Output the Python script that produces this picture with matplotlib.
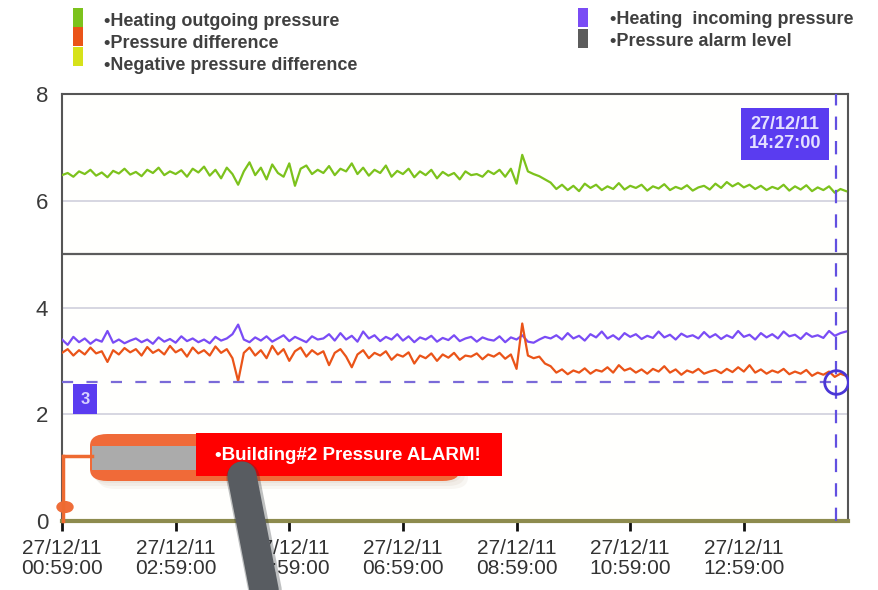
import numpy as np
import pandas as pd
import matplotlib
matplotlib.use("Agg")
import matplotlib.pyplot as plt
import matplotlib.font_manager as fm
from matplotlib.patches import Rectangle, FancyBboxPatch, Circle
from matplotlib.lines import Line2D

# ---- data (6 minute samples from 00:59) ----
outgoing = [6.48, 6.52, 6.45, 6.55, 6.50, 6.58, 6.47, 6.53, 6.44, 6.56, 6.51, 6.60, 6.49, 6.54, 6.46,
            6.58, 6.52, 6.62, 6.48, 6.55, 6.50, 6.57, 6.45, 6.60, 6.53, 6.64, 6.47, 6.58, 6.42, 6.62,
            6.50, 6.30, 6.55, 6.72, 6.48, 6.62, 6.40, 6.68, 6.52, 6.45, 6.70, 6.28, 6.60, 6.66, 6.50, 6.58,
            6.52, 6.65, 6.48, 6.60, 6.55, 6.70, 6.50, 6.62, 6.47, 6.58, 6.52, 6.66, 6.45, 6.56, 6.50,
            6.60, 6.44, 6.55, 6.48, 6.58, 6.42, 6.54, 6.47, 6.52, 6.40, 6.55, 6.48, 6.50, 6.45, 6.56,
            6.50, 6.58, 6.45, 6.60, 6.32, 6.86, 6.55, 6.50, 6.46, 6.40, 6.34,
            6.22, 6.30, 6.20, 6.28, 6.18, 6.32, 6.24, 6.30, 6.20, 6.27, 6.22, 6.33, 6.21, 6.28, 6.24,
            6.30, 6.19, 6.27, 6.23, 6.31, 6.20, 6.26, 6.22, 6.29, 6.19, 6.25, 6.28, 6.21, 6.32, 6.24,
            6.35, 6.27, 6.33, 6.25, 6.30, 6.22, 6.28, 6.20, 6.26, 6.22, 6.30, 6.19, 6.27, 6.21, 6.29,
            6.18, 6.25, 6.20, 6.27, 6.15, 6.22, 6.18]

incoming = [3.40, 3.30, 3.45, 3.35, 3.42, 3.32, 3.40, 3.36, 3.56, 3.34, 3.40, 3.33, 3.38, 3.42, 3.35,
            3.40, 3.32, 3.44, 3.36, 3.41, 3.34, 3.46, 3.37, 3.42, 3.35, 3.40, 3.33, 3.45, 3.38, 3.42,
            3.50, 3.68, 3.40, 3.35, 3.44, 3.38, 3.46, 3.36, 3.42, 3.48, 3.37, 3.45, 3.40, 3.35, 3.46, 3.40,
            3.42, 3.50, 3.38, 3.52, 3.40, 3.47, 3.36, 3.55, 3.42, 3.48, 3.37, 3.45, 3.40, 3.50, 3.38,
            3.46, 3.35, 3.44, 3.40, 3.47, 3.36, 3.43, 3.39, 3.48, 3.37, 3.42, 3.45, 3.36, 3.44, 3.40,
            3.38, 3.46, 3.35, 3.44, 3.40, 3.48, 3.36, 3.34, 3.40, 3.45, 3.42,
            3.48, 3.40, 3.52, 3.42, 3.47, 3.38, 3.50, 3.44, 3.55, 3.42, 3.48, 3.40, 3.52, 3.45, 3.50,
            3.41, 3.47, 3.43, 3.55, 3.44, 3.49, 3.40, 3.51, 3.45, 3.48, 3.42, 3.54, 3.44, 3.50, 3.41,
            3.48, 3.43, 3.56, 3.45, 3.49, 3.40, 3.52, 3.44, 3.50, 3.42, 3.55, 3.46, 3.49, 3.41, 3.52,
            3.45, 3.48, 3.43, 3.56, 3.47, 3.52, 3.55]

difference = [3.15, 3.22, 3.10, 3.20, 3.12, 3.25, 3.14, 3.18, 2.98, 3.20, 3.12, 3.24, 3.16, 3.22, 3.10,
              3.26, 3.15, 3.21, 3.12, 3.28, 3.16, 3.22, 3.08, 3.25, 3.14, 3.20, 3.10, 3.27, 3.15, 3.22,
              3.05, 2.62, 3.15, 3.25, 3.10, 3.20, 3.05, 3.28, 3.12, 3.22, 3.00, 3.18, 3.25, 3.08, 3.20, 3.12,
              3.18, 2.92, 3.15, 3.22, 3.08, 2.88, 3.12, 3.20, 3.05, 3.15, 3.10, 3.18, 3.02, 3.12, 3.08,
              3.16, 2.95, 3.10, 3.05, 3.14, 3.00, 3.12, 3.06, 3.15, 3.02, 3.10, 3.08, 3.14, 3.03, 3.12,
              3.08, 3.15, 3.04, 3.12, 2.85, 3.70, 3.10, 3.05, 3.08, 2.95, 2.90,
              2.78, 2.84, 2.75, 2.82, 2.78, 2.86, 2.76, 2.83, 2.80, 2.88, 2.78, 2.92, 2.82, 2.86, 2.78,
              2.84, 2.76, 2.85, 2.80, 2.90, 2.78, 2.84, 2.74, 2.82, 2.78, 2.85, 2.76, 2.80, 2.83, 2.77,
              2.85, 2.79, 2.88, 2.80, 2.92, 2.78, 2.84, 2.76, 2.82, 2.78, 2.85, 2.75, 2.80, 2.76, 2.83,
              2.72, 2.78, 2.74, 2.80, 2.70, 2.76, 2.72]

alarm_level = 5.0
negative_level = 0.0
threshold = 2.6
threshold_label = "3"
cursor_time = "2011-12-27 14:36"
cursor_label = "27/12/11\n14:27:00"
alarm_text = "\u2022Building#2 Pressure ALARM!"

legend_left = ["\u2022Heating outgoing pressure", "\u2022Pressure difference",
               "\u2022Negative pressure difference"]
legend_right = ["\u2022Heating  incoming pressure", "\u2022Pressure alarm level"]

c_green, c_orange, c_yellow = "#7cc21c", "#ea5418", "#d6e21a"
c_purple, c_gray = "#7a4cf5", "#5c5c5c"

times = pd.date_range("2011-12-27 00:59", periods=len(outgoing), freq="6min")
tick_times = pd.date_range("2011-12-27 00:59", periods=7, freq="2h")

plt.rcParams["font.family"] = ["Liberation Sans", "DejaVu Sans"]

W, H = 879, 590
fig = plt.figure(figsize=(W / 100, H / 100), dpi=100)


def fx(x):
    return x / W


def fy(y):
    return 1 - y / H


ax = fig.add_axes([fx(62), fy(521), fx(848) - fx(62), fy(94) - fy(521)])
ax.set_facecolor("#fffffd")

for g in [2, 4, 6]:
    ax.axhline(g, color="#cfcfdc", lw=1.2, zorder=1)
ax.axhline(alarm_level, color=c_gray, lw=1.6, zorder=2)

ax.plot(times, outgoing, color=c_green, lw=1.6, zorder=3)
ax.plot(times, incoming, color=c_purple, lw=1.6, zorder=3)
ax.plot(times, difference, color=c_orange, lw=1.6, zorder=4)
ax.axhline(negative_level, color="#8d8b4e", lw=3, zorder=5, clip_on=False)

ct = pd.Timestamp(cursor_time)
ax.axvline(ct, color="#6250e0", lw=1.6, ls=(0, (6, 5)), zorder=6)
ax.hlines(threshold, times[0], ct, color="#7a6ad8", lw=1.6, ls=(0, (5, 6)), zorder=6)
ax.plot([ct], [threshold], "o", ms=17, mfc="none", mec="#4a36d6", mew=2, zorder=7)

ax.set_ylim(0, 8)
ax.set_xlim(pd.Timestamp("2011-12-27 00:59"), pd.Timestamp("2011-12-27 14:49"))
ax.set_yticks([0, 2, 4, 6, 8])
ax.set_yticklabels(["0", "2", "4", "6", "8"], fontsize=16, color="#3a3a3a")
ax.set_xticks(tick_times)
ax.set_xticklabels([t.strftime("%d/%m/%y\n%H:%M:%S") for t in tick_times],
                   fontsize=15, color="#333333", linespacing=1.05)
ax.tick_params(axis="y", length=0, pad=10)
ax.tick_params(axis="x", direction="out", length=7, width=2, color="#111111", pad=6)
for s in ["left", "top", "right"]:
    ax.spines[s].set_color("#555555")
    ax.spines[s].set_linewidth(1.5)
ax.spines["bottom"].set_color("#77773a")
ax.spines["bottom"].set_linewidth(2)

# value labels on the cursor
fig.text(fx(785), fy(134), cursor_label, ha="center", va="center", fontsize=13,
         fontweight="bold", color="#e4e0ff", linespacing=1.15,
         bbox=dict(boxstyle="square,pad=0.45", fc="#5a3cf0", ec="none"))
fig.text(fx(85), fy(399), threshold_label, ha="center", va="center", fontsize=12,
         fontweight="bold", color="#d8d2ff",
         bbox=dict(boxstyle="square,pad=0.45", fc="#5a3cf0", ec="none"))

# legend
sq = [(c_green, 8), (c_orange, 27), (c_yellow, 47)]
for (c, y0), txt, ty in zip(sq, legend_left, [21, 43, 66]):
    fig.patches.append(Rectangle((fx(73), fy(y0 + 19)), fx(10), 19 / H, fc=c, ec="none",
                                 transform=fig.transFigure))
    fig.text(fx(104), fy(ty), txt, ha="left", va="center", fontsize=13,
             fontweight="bold", color="#404040")
for (c, y0), txt, ty in zip([(c_purple, 8), (c_gray, 29)], legend_right, [20, 42]):
    fig.patches.append(Rectangle((fx(578), fy(y0 + 19)), fx(10), 19 / H, fc=c, ec="none",
                                 transform=fig.transFigure))
    fig.text(fx(610), fy(ty), txt, ha="left", va="center", fontsize=13,
             fontweight="bold", color="#404040")

# alarm callout
fig.add_artist(Line2D([fx(63), fx(63)], [fy(521), fy(456)], color="#ee6a30", lw=2.5))
fig.add_artist(Line2D([fx(63), fx(92)], [fy(456), fy(456)], color="#ee6a30", lw=2.5))
fig.add_artist(Circle((fx(65), fy(507)), 8 / W, color="#ef6d38", transform=fig.transFigure))
for off, a in [(8, 0.25), (5, 0.35), (2, 0.5)]:
    fig.add_artist(FancyBboxPatch((fx(90 + off), fy(481 + off)), fx(370), 47 / H,
                                  boxstyle="round,pad=0,rounding_size=0.02", fc="#e4dcd2",
                                  ec="none", alpha=a, transform=fig.transFigure))
fig.add_artist(FancyBboxPatch((fx(90), fy(481)), fx(370), 47 / H,
                              boxstyle="round,pad=0,rounding_size=0.02", fc="#f06a38",
                              ec="none", transform=fig.transFigure))
fig.add_artist(Rectangle((fx(92), fy(470)), fx(104), 24 / H, fc="#ababab", ec="none",
                         transform=fig.transFigure))
fig.add_artist(Rectangle((fx(196), fy(476)), fx(306), 43 / H, fc="#ff0000", ec="none",
                         transform=fig.transFigure))
fig.text(fx(348), fy(455), alarm_text, ha="center", va="center", fontsize=13.5,
         fontweight="bold", color="white")

# pen pointer
fig.add_artist(Line2D([fx(243), fx(268)], [fy(478), fy(605)], color="#2e3236", lw=24,
                      solid_capstyle="round", alpha=0.3))
fig.add_artist(Line2D([fx(242), fx(267)], [fy(476), fy(605)], color="#585c61", lw=21,
                      solid_capstyle="round"))

fig.savefig("out.png", dpi=100)
